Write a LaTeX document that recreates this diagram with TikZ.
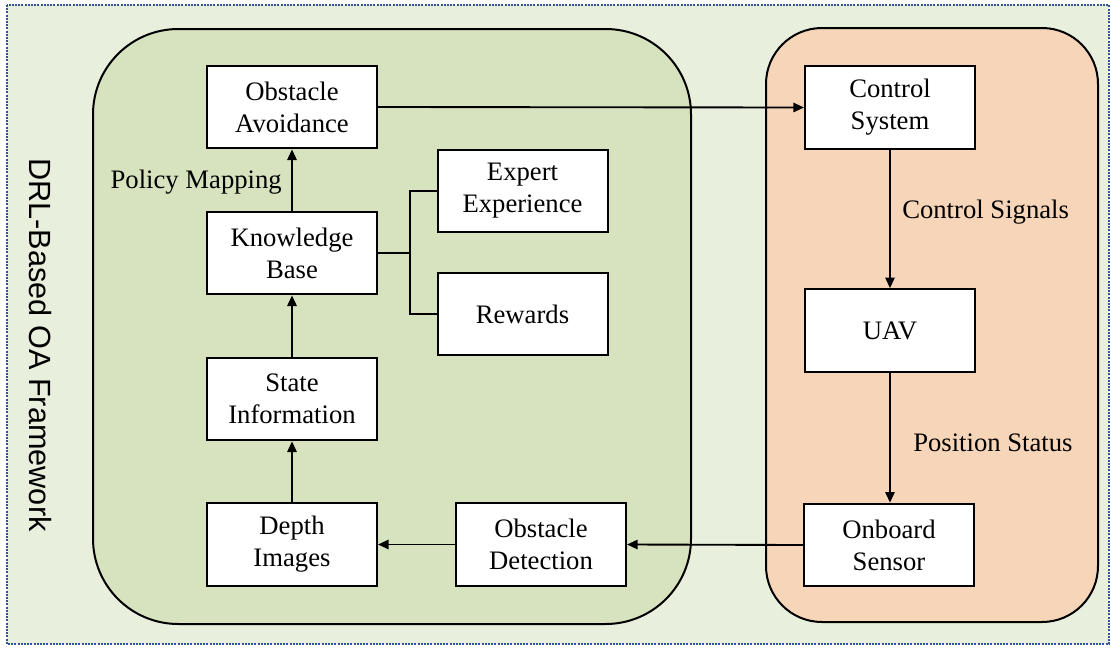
\documentclass[tikz,border=0pt]{standalone}
\usepackage{fontspec}
\setmainfont{Liberation Serif}
\newfontfamily\framesans{Liberation Sans}
\usetikzlibrary{arrows.meta}
\definecolor{bgGreen}{HTML}{E9EFDD}
\definecolor{panelGreen}{HTML}{D7E3BF}
\definecolor{panelOrange}{HTML}{F7D5B8}
\definecolor{dotBlue}{HTML}{2F5597}
\begin{document}
\begin{tikzpicture}[x=0.75pt,y=-0.75pt,
  stepbox/.style={draw=black,fill=white,line width=1.5pt,minimum width=127.5pt,minimum height=62pt,
    inner sep=0pt,align=center,font=\fontsize{20pt}{24pt}\selectfont},
  flow/.style={line width=1.4pt,-{Triangle[length=8pt,width=7pt]}},
  link/.style={line width=1.4pt},
  lbl/.style={font=\fontsize{20pt}{24pt}\selectfont,inner sep=0pt}]
\useasboundingbox (0,0) rectangle (1111,647);
% framework background with dotted border
\fill[bgGreen] (7,5) rectangle (1109,644);
\draw[dotBlue,line width=1.6pt,dash pattern=on 1.5pt off 0.9pt] (7,5) rectangle (1109,644);
% panels
\draw[fill=panelGreen,line width=1.5pt,rounded corners=64pt] (93,29) rectangle (691,624);
\draw[fill=panelOrange,line width=1.5pt,rounded corners=42pt] (766,28) rectangle (1098,622);
% side title
\node[font=\framesans\fontsize{23pt}{27pt}\selectfont,rotate=-90,inner sep=0pt] (title) at (40,345) {DRL-Based OA Framework};
% boxes
\node[stepbox] (oa) at (292,107) {Obstacle\\Avoidance};
\node[stepbox] (kb) at (292,253) {Knowledge\\Base};
\node[stepbox] (si) at (292,399) {State\\Information};
\node[stepbox] (di) at (292,544.5) {Depth\\Images};
\node[stepbox] (od) at (541,544.5) {Obstacle\\Detection};
\node[stepbox] (ee) at (522.5,191) {Expert\\Experience};
\node[stepbox] (rw) at (522.5,314) {Rewards};
\node[stepbox] (cs) at (890,107.5) {Control\\System};
\node[stepbox] (uav) at (890,330.5) {UAV};
\node[stepbox] (os) at (889,545) {Onboard\\Sensor};
% junction for knowledge base sources
\coordinate (jn) at (410,253);
% connectors
\draw[flow] (os.west) -- (od.east);
\draw[flow] (od.west) -- (di.east);
\draw[flow] (di.north) -- (si.south);
\draw[flow] (si.north) -- (kb.south);
\draw[flow] (kb.north) -- (oa.south);
\draw[flow] (oa.east) -- (cs.west);
\draw[flow] (cs.south) -- (uav.north);
\draw[flow] (uav.south) -- (os.north -| uav.south);
\draw[link] (kb.east) -- (jn);
\draw[link] (jn) |- (ee.west);
\draw[link] (jn) |- (rw.west);
% labels
\node[lbl,anchor=east] (pm) at (282,182) {Policy Mapping};
\node[lbl,anchor=west] (csig) at (902,212) {Control Signals};
\node[lbl,anchor=west] (pst) at (913,443) {Position Status};
\end{tikzpicture}
\end{document}
